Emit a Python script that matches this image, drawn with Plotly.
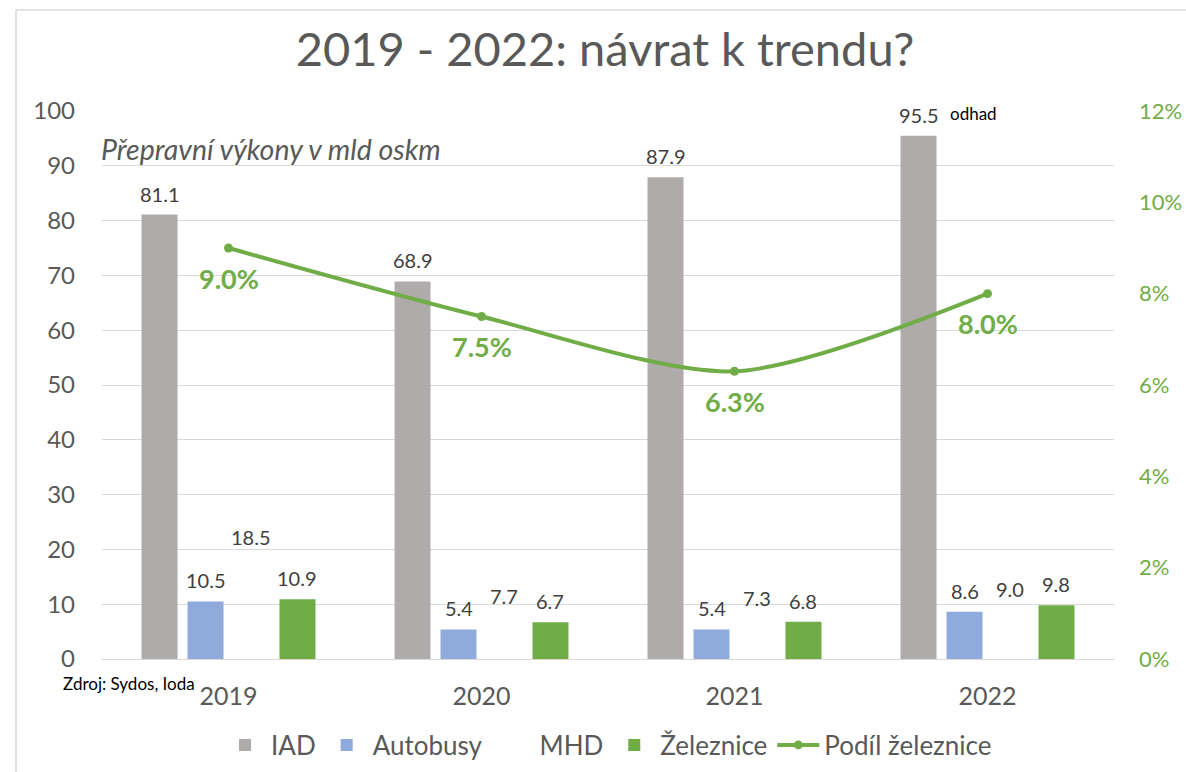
import plotly.graph_objects as go

years = ["2019", "2020", "2021", "2022"]
iad = [81.1, 68.9, 87.9, 95.5]
autobusy = [10.5, 5.4, 5.4, 8.6]
mhd = [18.5, 7.7, 7.3, 9.0]
zeleznice = [10.9, 6.7, 6.8, 9.8]
podil = [0.090, 0.075, 0.063, 0.080]

FONT = "Lato"
GRAY_TXT = "#595959"
LBL_TXT = "#404040"
GREEN = "#70AD47"

W, H = 1186, 772
ML, MR, MT, MB = 102, 72, 111, 113
BARGAP, BARGROUPGAP = 0.273, 0.217

series = [("IAD", iad, "#AFABAB"), ("Autobusy", autobusy, "#8FAADC"),
          ("MHD", mhd, "rgba(0,0,0,0)"), ("Železnice", zeleznice, GREEN)]

fig = go.Figure()
for name, vals, color in series:
    fig.add_trace(go.Bar(name=name, x=years, y=vals,
                         marker=dict(color=color, line=dict(width=0))))
fig.add_trace(go.Scatter(
    name="Podíl železnice", x=years, y=podil, yaxis="y2",
    mode="lines+markers", line=dict(color=GREEN, width=4, shape="spline", smoothing=0.8),
    marker=dict(color=GREEN, size=9),
))

annotations = []
# bar value labels, offset from the category centre according to the bar grouping
cat_w = (W - ML - MR) / len(years)
slot = cat_w * (1 - BARGAP) / len(series)
for k, (name, vals, color) in enumerate(series):
    xs = (k - (len(series) - 1) / 2) * slot
    for i, v in enumerate(vals):
        annotations.append(dict(
            x=i, y=v, xref="x", yref="y", text=f"{v:.1f}", showarrow=False,
            xshift=xs, yshift=7, yanchor="bottom",
            font=dict(family=FONT, size=20, color=LBL_TXT)))
for i, p in enumerate(podil):
    annotations.append(dict(
        x=i, y=p, xref="x", yref="y2", text=f"<b>{p*100:.1f}%</b>",
        showarrow=False, yshift=-30, font=dict(family=FONT, size=27, color=GREEN),
    ))
annotations += [
    dict(x=-0.003, y=93, xref="paper", yref="y", xanchor="left", yanchor="middle",
         text="<i>Přepravní výkony v mld oskm</i>", showarrow=False,
         font=dict(family=FONT, size=28.5, color=GRAY_TXT)),
    dict(x=0.836, y=99.6, xref="paper", yref="y", xanchor="left", yanchor="middle",
         text="odhad", showarrow=False, font=dict(family=FONT, size=17, color="black")),
    dict(x=-0.0405, y=-0.0456, xref="paper", yref="paper", xanchor="left", yanchor="middle",
         text="Zdroj: Sydos, Ioda", showarrow=False, font=dict(family=FONT, size=17, color="black")),
]

fig.update_layout(
    width=W, height=H,
    margin=dict(l=ML, r=MR, t=MT, b=MB, autoexpand=False),
    paper_bgcolor="white", plot_bgcolor="white",
    font=dict(family=FONT, color=GRAY_TXT),
    title=dict(text="2019 - 2022: návrat k trendu?", x=0.497, xref="paper", xanchor="center",
               y=1 - 50 / H, yanchor="middle",
               font=dict(family=FONT, size=47, color=GRAY_TXT)),
    barmode="group", bargap=BARGAP, bargroupgap=BARGROUPGAP,
    xaxis=dict(type="category", range=[-0.5, 3.5], showgrid=False, showline=True,
               linecolor="#D9D9D9", linewidth=1,
               tickfont=dict(family=FONT, size=25, color=GRAY_TXT), ticks="",
               ticklabelstandoff=15),
    yaxis=dict(range=[0, 100], dtick=10, showgrid=True, gridcolor="#D9D9D9", gridwidth=1,
               zeroline=False, showline=False,
               tickfont=dict(family=FONT, size=24, color=GRAY_TXT), ticklabelstandoff=26),
    yaxis2=dict(range=[0, 0.12], dtick=0.02, tickformat=".0%", overlaying="y", side="right",
                showgrid=False, zeroline=False, showline=False,
                tickfont=dict(family=FONT, size=22, color=GREEN), ticklabelstandoff=24),
    legend=dict(orientation="h", x=0.5, xanchor="center", y=-0.157, yanchor="middle",
                font=dict(family=FONT, size=26, color=GRAY_TXT), itemwidth=42,
                traceorder="normal"),
    annotations=annotations,
    shapes=[dict(type="rect", xref="paper", yref="paper",
                 x0=(16 - ML) / (W - ML - MR), x1=1.2, y0=-0.3,
                 y1=1 + (MT - 10) / (H - MT - MB),
                 line=dict(color="#D9D9D9", width=1.5), layer="below")],
    showlegend=True,
)

fig.write_html("out.html", config={"displayModeBar": False},
               post_script="document.body.style.margin='0';")
